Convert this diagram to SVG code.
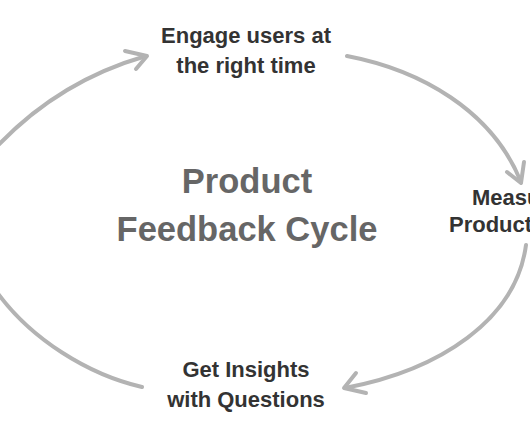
<svg xmlns="http://www.w3.org/2000/svg" width="530" height="442" viewBox="0 0 530 442">
<style>
.lbl{font-family:"Liberation Sans",Arial,sans-serif;font-weight:bold;font-size:22px;fill:#333;text-anchor:middle}
.title{font-family:"Liberation Sans",Arial,sans-serif;font-weight:bold;font-size:34.5px;fill:#666;text-anchor:middle}
.arc{fill:none;stroke:#b3b3b3;stroke-width:4;stroke-linecap:round;stroke-linejoin:round}
</style>
<rect width="530" height="442" fill="#fff"/>
<g id="connectors">
<path class="arc" d="M -8 152 C 30 110, 80 75, 146 56"/>
<polyline class="arc" points="125,51 147,56 136,69"/>
<path class="arc" d="M 347 56 C 420 70, 492 110, 521 182"/>
<polyline class="arc" points="507,172 521,183 524,162"/>
<path class="arc" d="M 526 245 C 516 320, 440 370, 345 388"/>
<polyline class="arc" points="356,373 344,388 366,393"/>
<path class="arc" d="M -6 288 C 30 340, 90 375, 142 387"/>
</g>
<g id="title">
<text class="title" x="247" y="193">Product</text>
<text class="title" x="247" y="241">Feedback Cycle</text>
</g>
<g id="engage">
<text class="lbl" x="246" y="43">Engage users at</text>
<text class="lbl" x="246" y="73">the right time</text>
</g>
<g id="measure">
<text class="lbl" x="472" y="205" style="text-anchor:start">Measure</text>
<text class="lbl" x="449" y="232" style="text-anchor:start">Product</text>
</g>
<g id="insights">
<text class="lbl" x="246" y="377">Get Insights</text>
<text class="lbl" x="246" y="407">with Questions</text>
</g>
</svg>
